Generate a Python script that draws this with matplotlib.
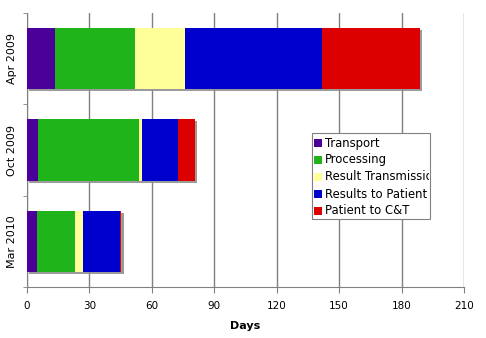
import numpy as np
import matplotlib
matplotlib.use("Agg")
import matplotlib.pyplot as plt
from matplotlib.patches import Rectangle
from matplotlib.transforms import Bbox, TransformedBbox
import matplotlib.patheffects as pe

# data (days per stage)
periods = ["Apr 2009", "Oct 2009", "Mar 2010"]
stages = ["Transport", "Processing", "Result Transmission",
          "Results to Patient", "Patient to C&T"]
transport = [13.3, 5.1, 5.0]
processing = [38.6, 48.7, 18.2]
result_transmission = [24.0, 1.6, 3.7]
results_to_patient = [66.1, 17.0, 17.8]
patient_to_ct = [47.0, 8.3, 0.7]
colors = ["#4a0099", "#1fb41a", "#ffff99", "#0000cc", "#dd0000"]

series = [transport, processing, result_transmission, results_to_patient, patient_to_ct]

plt.rcParams['font.family'] = ['DejaVu Sans']
fig = plt.figure(figsize=(4.86, 3.38), dpi=100)
ax = fig.add_axes([27/486, 1-287/338, (464-27)/486, (287-13)/338])

y = np.arange(len(periods))[::-1]
left = np.zeros(len(periods))
for vals, col in zip(series, colors):
    ax.barh(y, vals, left=left, height=0.67, color=col, zorder=3,
            path_effects=[pe.SimplePatchShadow(offset=(1.5, -1.5), shadow_rgbFace='#909090', alpha=0.9),
                          pe.Normal()])
    left += np.array(vals)

ax.set_xlim(0, 210)
ax.set_ylim(-0.5, 2.5)
ax.set_xticks(np.arange(0, 211, 30))
ax.set_xticklabels([str(v) for v in range(0, 211, 30)], fontsize=7.5)
ax.set_yticks(y)
ax.set_yticklabels(periods, rotation=90, va='center', fontsize=8)
ax.set_yticks([-0.5, 0.5, 1.5, 2.5], minor=True)
ax.tick_params(axis='y', which='major', length=0, pad=7)
ax.tick_params(axis='y', which='minor', length=3, color='#808080')
ax.tick_params(axis='x', length=4, color='#808080', pad=6)
ax.grid(axis='x', color='#808080', linewidth=1, zorder=0)
for s in ['top', 'right']:
    ax.spines[s].set_visible(False)
for s in ['left', 'bottom']:
    ax.spines[s].set_color('#808080')
ax.set_xlabel("Days", fontsize=8, fontweight='bold', labelpad=7)

# legend box (text clipped by frame as in original)
W, H = 486, 338
x0, y0, x1, y1 = 312/W, 1-219/H, 430/W, 1-133/H
box = Rectangle((x0, y0), x1-x0, y1-y0, transform=fig.transFigure,
                facecolor='white', edgecolor='#808080', linewidth=0.8, zorder=5)
fig.patches.append(box)
clip = TransformedBbox(Bbox([[x0, y0], [x1 - 1/W, y1]]), fig.transFigure)
for i, (name, col) in enumerate(zip(stages, colors)):
    yc = 143 + 17*i
    fig.patches.append(Rectangle((314/W, 1-(yc+4)/H), 8/W, 8/H, transform=fig.transFigure,
                                 facecolor=col, edgecolor='none', zorder=6))
    t = fig.text(325/W, 1-yc/H, name, fontsize=8.4, va='center', ha='left', zorder=6)
    t.set_clip_on(True)
    t.set_clip_box(clip)

fig.savefig("out.png", dpi=100)
